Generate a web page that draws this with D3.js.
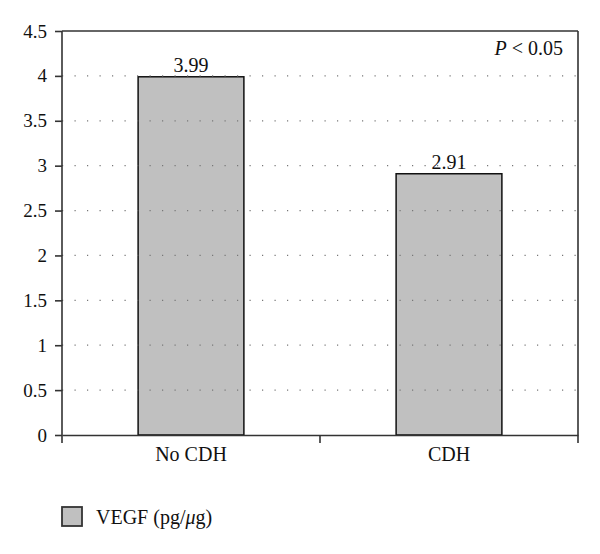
<!DOCTYPE html>
<html>
<head>
<meta charset="utf-8">
<script src="https://cdn.jsdelivr.net/npm/d3@7"></script>
<style>
  body { margin: 0; background: #fff; }
  svg text { font-family: "Liberation Serif", "Times New Roman", serif !important; fill: #111; }
</style>
</head>
<body>
<div id="chart"></div>
<script>
const groups = ["No CDH", "CDH"];
const vegf = [3.99, 2.91];
const yTicks = [0, 0.5, 1, 1.5, 2, 2.5, 3, 3.5, 4, 4.5];
const seriesName = "VEGF (pg/";
const pNote = "< 0.05";

const W = 600, H = 554;
const m = { top: 31, right: 22, bottom: 119, left: 62 };
const iw = W - m.left - m.right, ih = H - m.top - m.bottom;

const svg = d3.select("#chart").append("svg")
    .attr("width", W)
    .attr("height", H);

const g = svg.append("g")
    .attr("transform", "translate(" + m.left + "," + m.top + ")");

const x = d3.scaleBand().domain(groups).range([0, iw]).paddingInner(0.59).paddingOuter(0.295);
const y = d3.scaleLinear().domain([0, 4.5]).range([ih, 0]);

// bars
g.selectAll("rect.bar")
    .data(groups)
    .join("rect")
    .attr("class", "bar")
    .attr("x", d => x(d))
    .attr("y", (d, i) => y(vegf[i]))
    .attr("width", x.bandwidth())
    .attr("height", (d, i) => ih - y(vegf[i]))
    .attr("fill", "#c0c0c0")
    .attr("stroke", "#111")
    .attr("stroke-width", 1.5);

// dotted gridlines (drawn over bars)
g.append("g")
    .selectAll("line")
    .data(yTicks.filter(t => t > 0 && t < 4.5))
    .join("line")
    .attr("x1", 0)
    .attr("x2", iw)
    .attr("y1", d => y(d))
    .attr("y2", d => y(d))
    .attr("stroke", "#777")
    .attr("stroke-width", 1.2)
    .attr("stroke-dasharray", "1.2,11.3");

// frame: top and right
g.append("line").attr("x1", 0).attr("x2", iw).attr("y1", 0).attr("y2", 0)
    .attr("stroke", "#333").attr("stroke-width", 1.6);
g.append("line").attr("x1", iw).attr("x2", iw).attr("y1", 0).attr("y2", ih + 8)
    .attr("stroke", "#333").attr("stroke-width", 1.6);

// y axis
const ya = g.append("g")
    .call(d3.axisLeft(y).tickValues(yTicks).tickSize(7).tickPadding(8).tickFormat(d3.format("")));
ya.select(".domain").attr("d", "M0," + (ih + 8) + "V0").attr("stroke", "#333").attr("stroke-width", 1.6);
ya.selectAll(".tick line").attr("stroke", "#333").attr("stroke-width", 1.6);
ya.selectAll(".tick text").style("font-size", "19px").attr("fill", "#111");

// x axis
const xa = g.append("g")
    .attr("transform", "translate(0," + ih + ")")
    .call(d3.axisBottom(x).tickSize(0).tickPadding(12));
xa.select(".domain").attr("stroke", "#333").attr("stroke-width", 1.6);
xa.selectAll(".tick text").style("font-size", "20px").attr("fill", "#111");
// boundary tick between categories
g.append("line").attr("x1", iw / 2).attr("x2", iw / 2).attr("y1", ih).attr("y2", ih + 8)
    .attr("stroke", "#333").attr("stroke-width", 1.6);

// value labels
g.selectAll("text.val")
    .data(groups)
    .join("text")
    .attr("class", "val")
    .attr("x", d => x(d) + x.bandwidth() / 2)
    .attr("y", (d, i) => y(vegf[i]) - 5)
    .attr("text-anchor", "middle")
    .style("font-size", "20px")
    .text((d, i) => vegf[i].toFixed(2));

// P note
const pt = g.append("text")
    .attr("x", iw - 15)
    .attr("y", 24)
    .attr("text-anchor", "end")
    .style("font-size", "20px");
pt.append("tspan").style("font-style", "italic").text("P");
pt.append("tspan").text(" " + pNote);

// legend
const lg = svg.append("g").attr("transform", "translate(62,507)");
lg.append("rect").attr("width", 20).attr("height", 19)
    .attr("fill", "#c0c0c0").attr("stroke", "#333").attr("stroke-width", 1.8);
const lt = lg.append("text").attr("x", 34).attr("y", 17).style("font-size", "20px");
lt.append("tspan").text(seriesName);
lt.append("tspan").style("font-style", "italic").text("\u03bc");
lt.append("tspan").text("g)");
</script>
</body>
</html>
